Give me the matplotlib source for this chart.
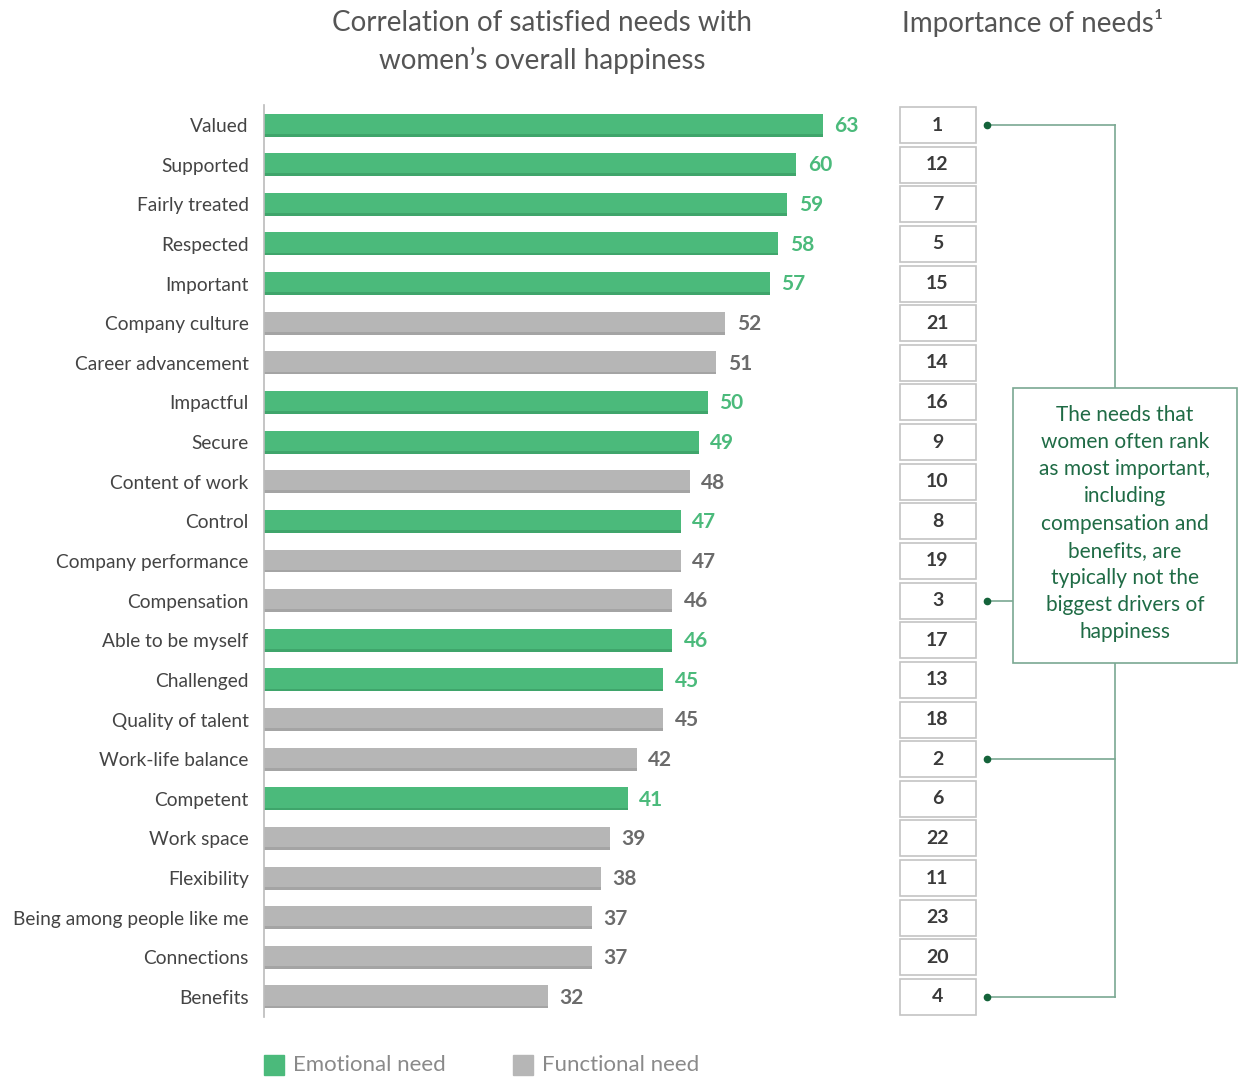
import numpy as np
import matplotlib.pyplot as plt
from matplotlib.patches import Rectangle

labels = ["Valued", "Supported", "Fairly treated", "Respected", "Important",
          "Company culture", "Career advancement", "Impactful", "Secure",
          "Content of work", "Control", "Company performance", "Compensation",
          "Able to be myself", "Challenged", "Quality of talent",
          "Work-life balance", "Competent", "Work space", "Flexibility",
          "Being among people like me", "Connections", "Benefits"]
values = [63, 60, 59, 58, 57, 52, 51, 50, 49, 48, 47, 47, 46, 46, 45, 45,
          42, 41, 39, 38, 37, 37, 32]
kinds = ["E", "E", "E", "E", "E", "F", "F", "E", "E", "F", "E", "F", "F",
         "E", "E", "F", "F", "E", "F", "F", "F", "F", "F"]
ranks = [1, 12, 7, 5, 15, 21, 14, 16, 9, 10, 8, 19, 3, 17, 13, 18, 2, 6,
         22, 11, 23, 20, 4]
highlight = [1, 2, 3, 4]

green = "#4bba7b"
green_dk = "#3fa56b"
gray = "#b6b6b6"
gray_dk = "#a4a4a4"
line_col = "#7aa892"
dot_col = "#14633a"
txt = "#444444"

plt.rcParams['font.family'] = ['Lato', 'DejaVu Sans']

W, H = 1239, 1077
fig = plt.figure(figsize=(W / 100, H / 100), dpi=100)

def fig_rect(x0, y0, x1, y1):
    return [x0 / W, 1 - y1 / H, (x1 - x0) / W, (y1 - y0) / H]

n = len(labels)
y = np.arange(n)
top_px, bot_px = 105.2, 1016.8

ax = fig.add_axes(fig_rect(264, top_px, 264 + 70 * 8.87, bot_px))
ax.set_xlim(0, 70)
ax.set_ylim(n - 0.5, -0.5)

cols = [green if k == "E" else gray for k in kinds]
cols_dk = [green_dk if k == "E" else gray_dk for k in kinds]
ax.barh(y, values, height=0.58, color=cols, edgecolor="none")
ax.barh(y + 0.255, values, height=0.07, color=cols_dk, edgecolor="none")
for yi, v, k in zip(y, values, kinds):
    ax.text(v + 1.3, yi + 0.02, str(v), va="center", ha="left",
            fontsize=15, fontweight="bold",
            color=green if k == "E" else "#6b6b6b")

ax.set_yticks(y)
ax.set_yticklabels(labels, fontsize=13.8, color=txt)
ax.tick_params(axis="y", length=0, pad=11)
ax.set_xticks([])
for s in ["top", "right", "bottom"]:
    ax.spines[s].set_visible(False)
ax.spines["left"].set_color("#bbbbbb")
ax.spines["left"].set_linewidth(1.2)

# side panel: importance ranks + bracket
side = fig.add_axes(fig_rect(899, top_px, 1239, bot_px))
side.set_xlim(899, 1239)
side.set_ylim(n - 0.5, -0.5)
side.axis("off")
for yi, r in zip(y, ranks):
    side.add_patch(Rectangle((899.5, yi - 0.455), 76.5, 0.91, fill=False,
                             edgecolor="#c4c4c4", linewidth=1.2))
    side.text(937.5, yi, str(r), ha="center", va="center", fontsize=14,
              fontweight="bold", color="#3a3a3a")

hy = [yi for yi, r in zip(y, ranks) if r in highlight]
for yi in hy:
    side.plot([987, 1115], [yi, yi], color=line_col, lw=1.2)
    side.plot([987], [yi], marker="o", ms=4.5, color=dot_col)
side.plot([1115, 1115], [min(hy), max(hy)], color=line_col, lw=1.2)

box_top, box_bot = 6.64, 13.57
side.add_patch(Rectangle((1013, box_top), 224, box_bot - box_top,
                         facecolor="white", edgecolor=line_col, lw=1.2,
                         zorder=3))
side.text(1125, (box_top + box_bot) / 2 - 0.05,
          "The needs that\nwomen often rank\nas most important,\nincluding\n"
          "compensation and\nbenefits, are\ntypically not the\nbiggest drivers of\nhappiness",
          ha="center", va="center", fontsize=15, color="#1f6b45",
          linespacing=1.45, zorder=4)

# titles
fig.text(542 / W, 1 - 42 / H,
         "Correlation of satisfied needs with\nwomen\u2019s overall happiness",
         ha="center", va="center", fontsize=20, color="#555555",
         linespacing=1.45)
fig.text(1033 / W, 1 - 23 / H, "Importance of needs\u00b9", ha="center",
         va="center", fontsize=20, color="#555555")

# legend
leg = fig.add_axes(fig_rect(250, 1045, 750, 1085))
leg.set_xlim(250, 750)
leg.set_ylim(1085, 1045)
leg.axis("off")
for x0, c, lab in [(264, green, "Emotional need"), (513, gray, "Functional need")]:
    leg.add_patch(Rectangle((x0, 1055), 20, 20, color=c))
    leg.text(x0 + 29, 1065, lab, va="center", ha="left", fontsize=16,
             color="#8a8a8a")

fig.savefig("out.png", dpi=100)
